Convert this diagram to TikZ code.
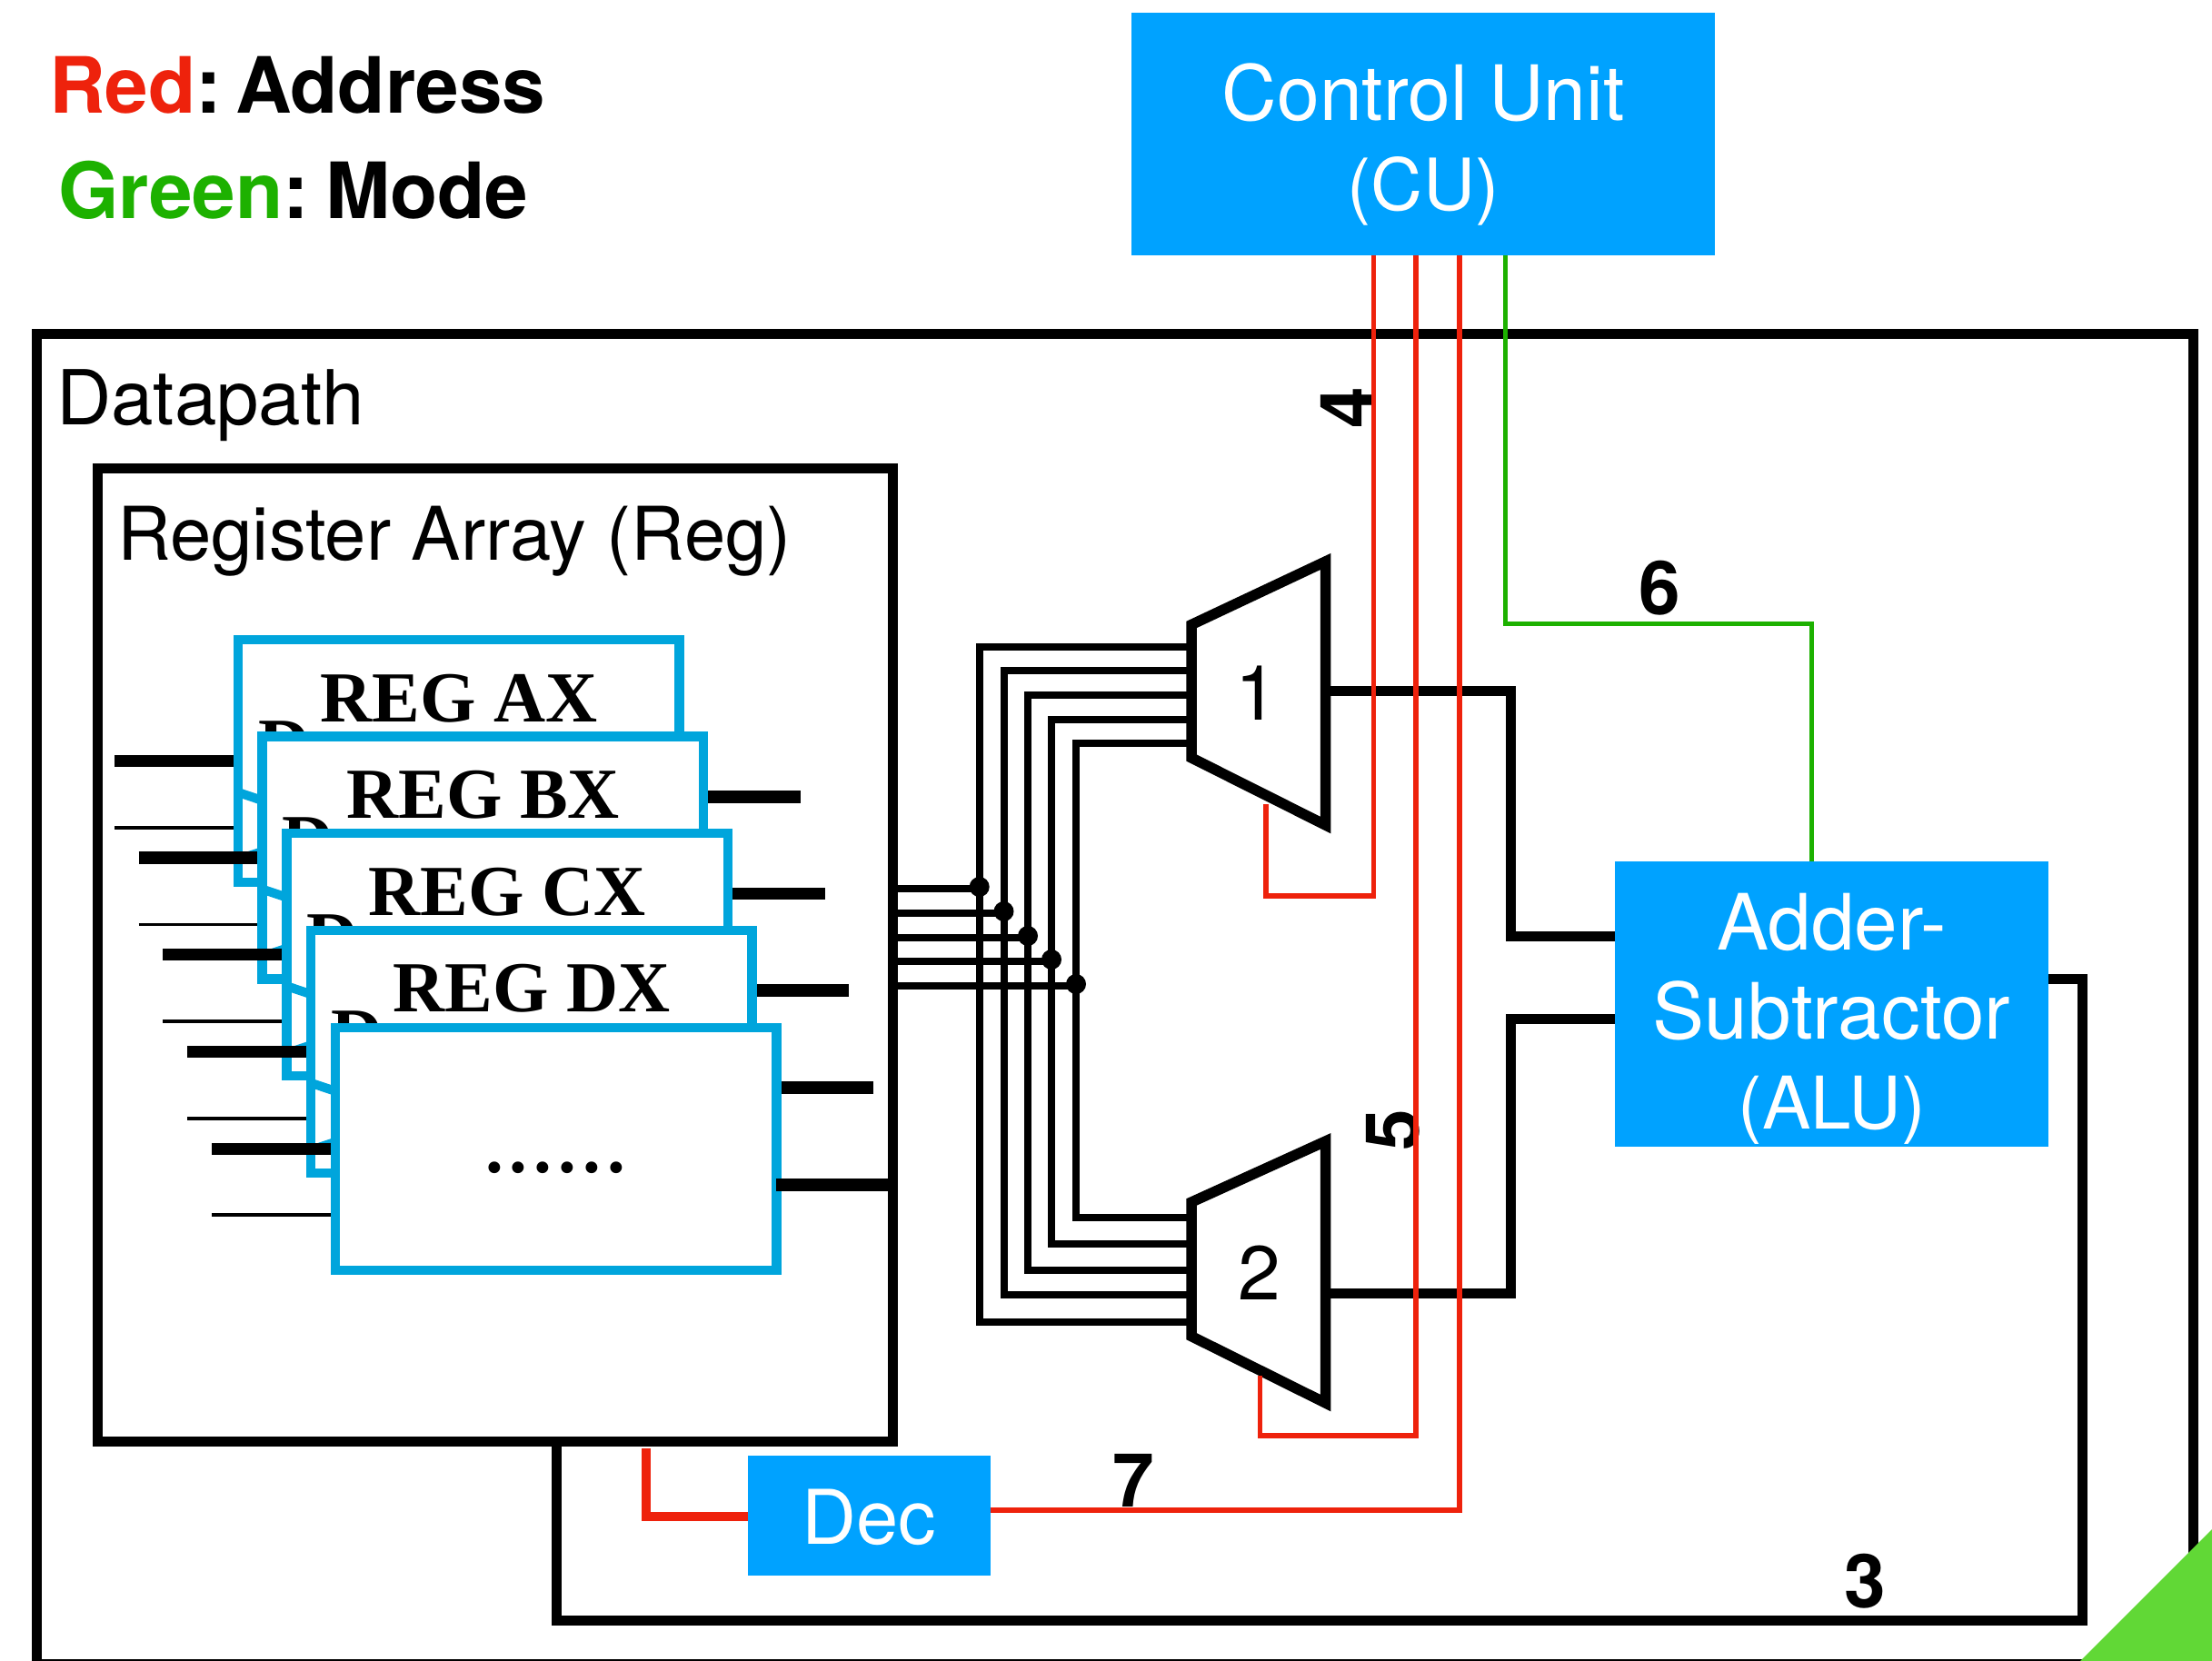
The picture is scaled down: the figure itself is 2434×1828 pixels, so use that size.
\documentclass[tikz,border=0pt]{standalone}
\usepackage{fontspec}
\setmainfont{TeX Gyre Heros}
\newfontfamily\regfont{Liberation Serif}
\definecolor{kred}{HTML}{EE220C}
\definecolor{kgreen}{HTML}{1DB100}
\definecolor{kblue}{HTML}{00A2FF}
\definecolor{rblue}{HTML}{00A5DC}
\definecolor{kcorner}{HTML}{61D836}
\tikzset{
  bluebox/.style={rectangle,fill=kblue,inner sep=0,outer sep=0},
  bluetext/.style={text=white,inner sep=0,align=center,font=\fontsize{84}{99}\selectfont},
  frame/.style={rectangle,draw=black,line width=11pt,inner sep=0,outer sep=0,minimum width=#1},
  regbox/.style={rectangle,draw=rblue,fill=white,line width=10.5pt,inner sep=0,outer sep=0,minimum width=485.5pt,minimum height=267pt},
  reglabel/.style={anchor=base,inner sep=0,text=black,font=\fontsize{79}{90}\selectfont\regfont\bfseries},
  txt/.style={anchor=base west,inner sep=0,font=\fontsize{83.5}{99}\selectfont},
  btxt/.style={anchor=base west,inner sep=0,font=\fontsize{85.5}{99}\selectfont\bfseries},
  digit/.style={anchor=center,inner sep=0,font=\fontsize{82}{99}\selectfont\bfseries},
  muxnum/.style={anchor=center,inner sep=0,font=\fontsize{84}{99}\selectfont},
  mux/.style={draw=black,fill=white,line width=11.5pt,line join=miter},
  wire/.style={draw=black,line width=11pt,line join=miter},
  buswire/.style={draw=black,line width=8pt,line join=miter},
  inthick/.style={draw=black,line width=13.5pt},
  inthin/.style={draw=black,line width=3.5pt},
  chevron/.style={draw=rblue,line width=10pt,line join=miter},
  redwire/.style={draw=kred,line width=5.5pt,line join=miter},
  greenwire/.style={draw=kgreen,line width=5pt,line join=miter},
  redthick/.style={draw=kred,line width=9.5pt,line join=miter},
  junction/.style={circle,fill=black,inner sep=0,minimum size=22pt},
}
\begin{document}
\begin{tikzpicture}[x=1pt,y=-1pt]
\useasboundingbox (0,0) rectangle (2434,1828);
\fill[white] (0,0) rectangle (2434,1828);

% frames
\node[frame=2373pt,minimum height=1464pt] (dp) at (1226.5,1099) {};
\node[frame=875pt,minimum height=1071pt] (reg) at (544.5,1050.5) {};

% legend and titles
\node[btxt] (lg1) at (54,124) {\textcolor{kred}{Red}:\kern15pt Address};
\node[btxt] (lg2) at (64,240) {\textcolor{kgreen}{Green}:\kern18pt Mode};
\node[txt] (dpt) at (62,467) {Datapath};
\node[txt,font=\fontsize{81.5}{99}\selectfont] (regt) at (129,616) {Register Array (Reg)};

% registers
\foreach \i/\lab in {0/REG AX,1/REG BX,2/REG CX,3/REG DX}{
  \pgfmathsetmacro{\xx}{262+26.7*\i}
  \pgfmathsetmacro{\yy}{704+106.6*\i}
  \coordinate (ina\i) at (\xx-136,\yy+133.5);
  \coordinate (inb\i) at (\xx-136,\yy+207);
  \coordinate (outp\i) at (\xx+619,\yy+173);
  \draw[inthick] (ina\i) -- (ina\i -| \xx,0);
  \draw[inthin] (inb\i) -- (inb\i -| \xx,0);
  \draw[inthick] (\xx+485,\yy+173) -- (outp\i);
  \node[regbox] (rb\i) at (\xx+242.75,\yy+133.5) {};
  \node[reglabel] (rl\i) at (\xx+243,\yy+90) {\lab};
  \node[reglabel,anchor=base west] (rd\i) at (\xx+22,\yy+141) {D};
  \draw[chevron] (\xx,\yy+168) -- (\xx+110,\yy+205) -- (\xx,\yy+242);
}
\coordinate (ina4) at (233,1264.6);
\coordinate (inb4) at (233,1337);
\draw[inthick] (ina4) -- (369,1264.6);
\draw[inthin] (inb4) -- (369,1337);
\node[regbox] (rb4) at (611.5,1264.5) {};
\node[reglabel] (rl4) at (611,1290) {.\kern7pt.\kern7pt.\kern7pt.\kern7pt.\kern7pt.};
\draw[inthick] (rb4.east |- 0,1304) -- (reg.east |- 0,1304);

% bus
\foreach \n/\ly/\vx/\uy/\dy in {a/978/1077.7/711.7/1455,b/1005/1104.5/738/1424.6,c/1032/1131/765/1397.6,d/1058/1157/792/1369,e/1085/1184/818.4/1340}{
  \node[junction] (j\n) at (\vx,\ly-2) {};
  \draw[buswire] (reg.east |- 0,\ly) -- (\vx,\ly);
  \draw[buswire] (1311,\uy) -- (\vx,\uy) -- (\vx,\dy) -- (1311,\dy);
}

% multiplexers
\coordinate (m1a) at (1311,687.5);
\coordinate (m1b) at (1458.5,618);
\coordinate (m1c) at (1458.5,908);
\coordinate (m1d) at (1311,834);
\coordinate (m2a) at (1311,1323);
\coordinate (m2b) at (1458.5,1256);
\coordinate (m2c) at (1458.5,1544);
\coordinate (m2d) at (1311,1470.6);
\draw[mux] (m1a) -- (m1b) -- (m1c) -- (m1d) -- cycle;
\draw[mux] (m2a) -- (m2b) -- (m2c) -- (m2d) -- cycle;
\node[muxnum] (n1) at (1383,763) {1};
\node[muxnum] (n2) at (1386,1400.5) {2};

% blue blocks
\node[bluebox,minimum width=642pt,minimum height=267pt] (cu) at (1566,147.5) {};
\node[bluetext] (cut) at (1566,159) {Control Unit\\{\fontsize{79}{99}\selectfont (CU)}};
\node[bluebox,minimum width=477pt,minimum height=314pt] (alu) at (2015.5,1105) {};
\node[bluetext,font=\fontsize{85.5}{98.5}\selectfont] (alut) at (2015.5,1121) {Adder-\\Subtractor\\{\fontsize{80}{98.5}\selectfont (ALU)}};
\node[bluebox,minimum width=267pt,minimum height=132pt] (dec) at (956.5,1668) {};
\node[bluetext,font=\fontsize{83}{99}\selectfont] (dect) at (956.5,1670) {Dec};

% black datapath wires
\coordinate (w1a) at (1662.5,760.5);
\coordinate (w1b) at (1662.5,1030);
\coordinate (w2a) at (1662.5,1423.5);
\coordinate (w2b) at (1662.5,1121.5);
\draw[wire] (m1b |- w1a) -- (w1a) -- (w1b) -- (alu.west |- w1b);
\draw[wire] (m2b |- w2a) -- (w2a) -- (w2b) -- (alu.west |- w2b);
\coordinate (fb1) at (2291,1077);
\coordinate (fb2) at (2291,1783);
\coordinate (fb3) at (612,1783);
\draw[wire] (alu.east |- fb1) -- (fb1) -- (fb2) -- (fb3) -- (fb3 |- reg.south);

% step numbers
\node[digit] (d3) at (2052,1740) {3};
\node[digit,rotate=90] (d4) at (1482,449) {4};
\node[digit,rotate=90] (d5) at (1533,1244) {5};
\node[digit] (d6) at (1826,647) {6};
\node[digit] (d7) at (1247,1629) {7};

% control wires
\coordinate (c1) at (1511.6,986);
\coordinate (c1m) at (1393,986);
\coordinate (c1e) at (1393,885);
\coordinate (c2) at (1558,1580);
\coordinate (c2m) at (1386.6,1580);
\coordinate (c2e) at (1386.6,1514);
\coordinate (c3) at (1606,1662);
\coordinate (g1) at (1656,686);
\coordinate (g2) at (1993.5,686);
\draw[redwire] (cu.south -| c1) -- (c1) -- (c1m) -- (c1e);
\draw[redwire] (cu.south -| c2) -- (c2) -- (c2m) -- (c2e);
\draw[redwire] (cu.south -| c3) -- (c3) -- (dec.east |- c3);
\draw[greenwire] (cu.south -| g1) -- (g1) -- (g2) -- (g2 |- alu.north);
\coordinate (rt) at (711,1594);
\coordinate (rb) at (711,1669);
\draw[redthick] (rt) -- (rb) -- (dec.west |- rb);

% corner mark
\fill[kcorner] (2434,1683) -- (2434,1828) -- (2289,1828) -- cycle;
\end{tikzpicture}
\end{document}
